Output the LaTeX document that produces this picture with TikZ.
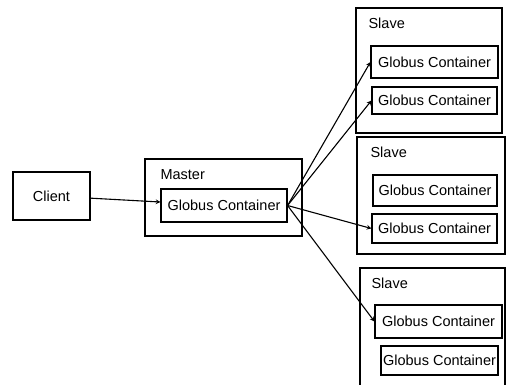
\documentclass[tikz,border=0pt]{standalone}
\usepackage{fontspec}
\setmainfont{Liberation Sans}
\usetikzlibrary{arrows}

\begin{document}
\begin{tikzpicture}[x=1pt, y=-1pt, ->, >=stealth, line width=1.1pt,
	every node/.style={font=\fontsize{14.5}{17}\selectfont},
	outerbox/.style={rectangle, draw, -, inner sep=0pt},
	container/.style={rectangle, draw, -, inner sep=0pt},
	boxlabel/.style={anchor=west, inner sep=0pt}]
	\useasboundingbox (0,0) rectangle (508,384);
	\clip (0,0) rectangle (508,384);
	\node[outerbox, minimum width=77pt, minimum height=48pt] (client) at (51.5,196) {Client};
	
	\node[outerbox, minimum width=157pt, minimum height=77pt] (master) at (223.5,197.5) {};
	\node[boxlabel] (mlabel) at (160,175) {Master};
	\node[container, minimum width=126pt, minimum height=33pt] (mgc) at (224,205.5) {Globus Container};
	
	\node[outerbox, minimum width=146pt, minimum height=125pt] (slave1) at (429,70.5) {};
	\node[boxlabel] (s1label) at (368,23) {Slave};
	\node[container, minimum width=127pt, minimum height=32pt] (s1a) at (434.5,62) {Globus Container};
	\node[container, minimum width=125pt, minimum height=27pt] (s1b) at (434.5,100.5) {Globus Container};
	
	\node[outerbox, minimum width=148pt, minimum height=117pt] (slave2) at (431,195.5) {};
	\node[boxlabel] (s2label) at (370,152) {Slave};
	\node[container, minimum width=124pt, minimum height=31pt] (s2a) at (435,190.5) {Globus Container};
	\node[container, minimum width=125pt, minimum height=29pt] (s2b) at (434.5,228.5) {Globus Container};
	
	\node[outerbox, minimum width=145pt, minimum height=132pt] (slave3) at (432.5,334) {};
	\node[boxlabel] (s3label) at (371,283) {Slave};
	\node[container, minimum width=127pt, minimum height=33pt] (s3a) at (438.5,321.5) {Globus Container};
	\node[container, minimum width=117pt, minimum height=29pt] (s3b) at (439.5,360.5) {Globus Container};
	
	\path (client) edge (mgc)
	(mgc.east) edge (s1a.west)
	(mgc.east) edge (s1b.west)
	(mgc.east) edge (s2b.west)
	(mgc.east) edge (s3a.west);
\end{tikzpicture}
\end{document}
